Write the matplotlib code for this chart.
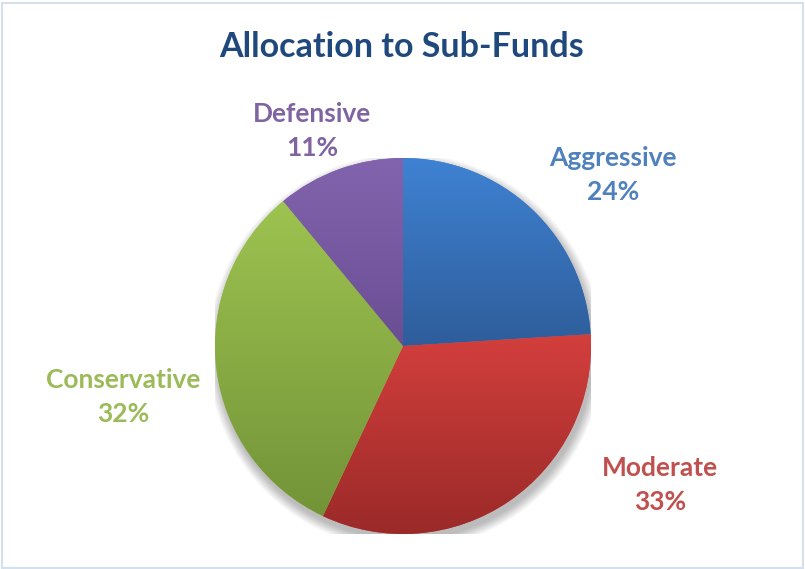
import matplotlib
matplotlib.use("Agg")
import matplotlib.pyplot as plt
import numpy as np
from matplotlib.colors import LinearSegmentedColormap
from matplotlib.patches import Rectangle, Circle

categories = ["Aggressive", "Moderate", "Conservative", "Defensive"]
values = [24, 33, 32, 11]
top_colors = ["#3f82d3", "#d33f3d", "#9ec350", "#8264ae"]
bottom_colors = ["#2e5d9a", "#9a2a28", "#739338", "#6a4e93"]
label_colors = ["#4f81bd", "#c0504d", "#9bbb59", "#8064a2"]
title = "Allocation to Sub-Funds"

W, H = 805, 569
fig = plt.figure(figsize=(W / 100, H / 100), dpi=100)
fig.patch.set_facecolor("white")

cx, cy, r = 403, 346, 188
ax = fig.add_axes([(cx - r) / W, (H - cy - r) / H, 2 * r / W, 2 * r / H])
ax.set_xlim(-1, 1)
ax.set_ylim(-1, 1)
ax.set_aspect("equal")
ax.axis("off")

# soft shadow
for i in range(14):
    rr = 1.0 + 0.004 * i
    ax.add_patch(Circle((0.012, -0.03), rr, facecolor="#000000", alpha=0.018,
                        edgecolor="none", zorder=0))

wedges, _ = ax.pie(values, startangle=90, counterclock=False, radius=1,
                   wedgeprops=dict(linewidth=0, edgecolor="none"))
grad = np.linspace(1, 0, 256).reshape(-1, 1)
for w, tc, bc in zip(wedges, top_colors, bottom_colors):
    w.set_facecolor(tc)
    bb = w.get_path().get_extents()
    cmap = LinearSegmentedColormap.from_list("g", [bc, tc])
    im = ax.imshow(grad, cmap=cmap, extent=[bb.x0, bb.x1, bb.y0, bb.y1],
                   aspect="auto", origin="upper", zorder=2,
                   interpolation="bilinear")
    im.set_clip_path(w)
ax.set_xlim(-1, 1)
ax.set_ylim(-1, 1)

font = "Lato"
fig.text(402 / W, 1 - 47 / H, title, ha="center", va="center",
         fontsize=24.5, fontweight="bold", color="#1f497d", family=font)

label_pos = [(613, 175), (660, 485), (123, 397), (312, 131)]
for cat, v, (x, y), col in zip(categories, values, label_pos, label_colors):
    fig.text(x / W, 1 - y / H, f"{cat}\n{v}%", ha="center", va="center",
             fontsize=19, fontweight="bold", color=col, family=font,
             linespacing=1.45)

fig.add_artist(Rectangle((1.5 / W, 1.5 / H), (W - 4) / W, (H - 4) / H,
                         transform=fig.transFigure, fill=False,
                         edgecolor="#d5e0ef", linewidth=1.5))

fig.savefig("out.png", dpi=100)
